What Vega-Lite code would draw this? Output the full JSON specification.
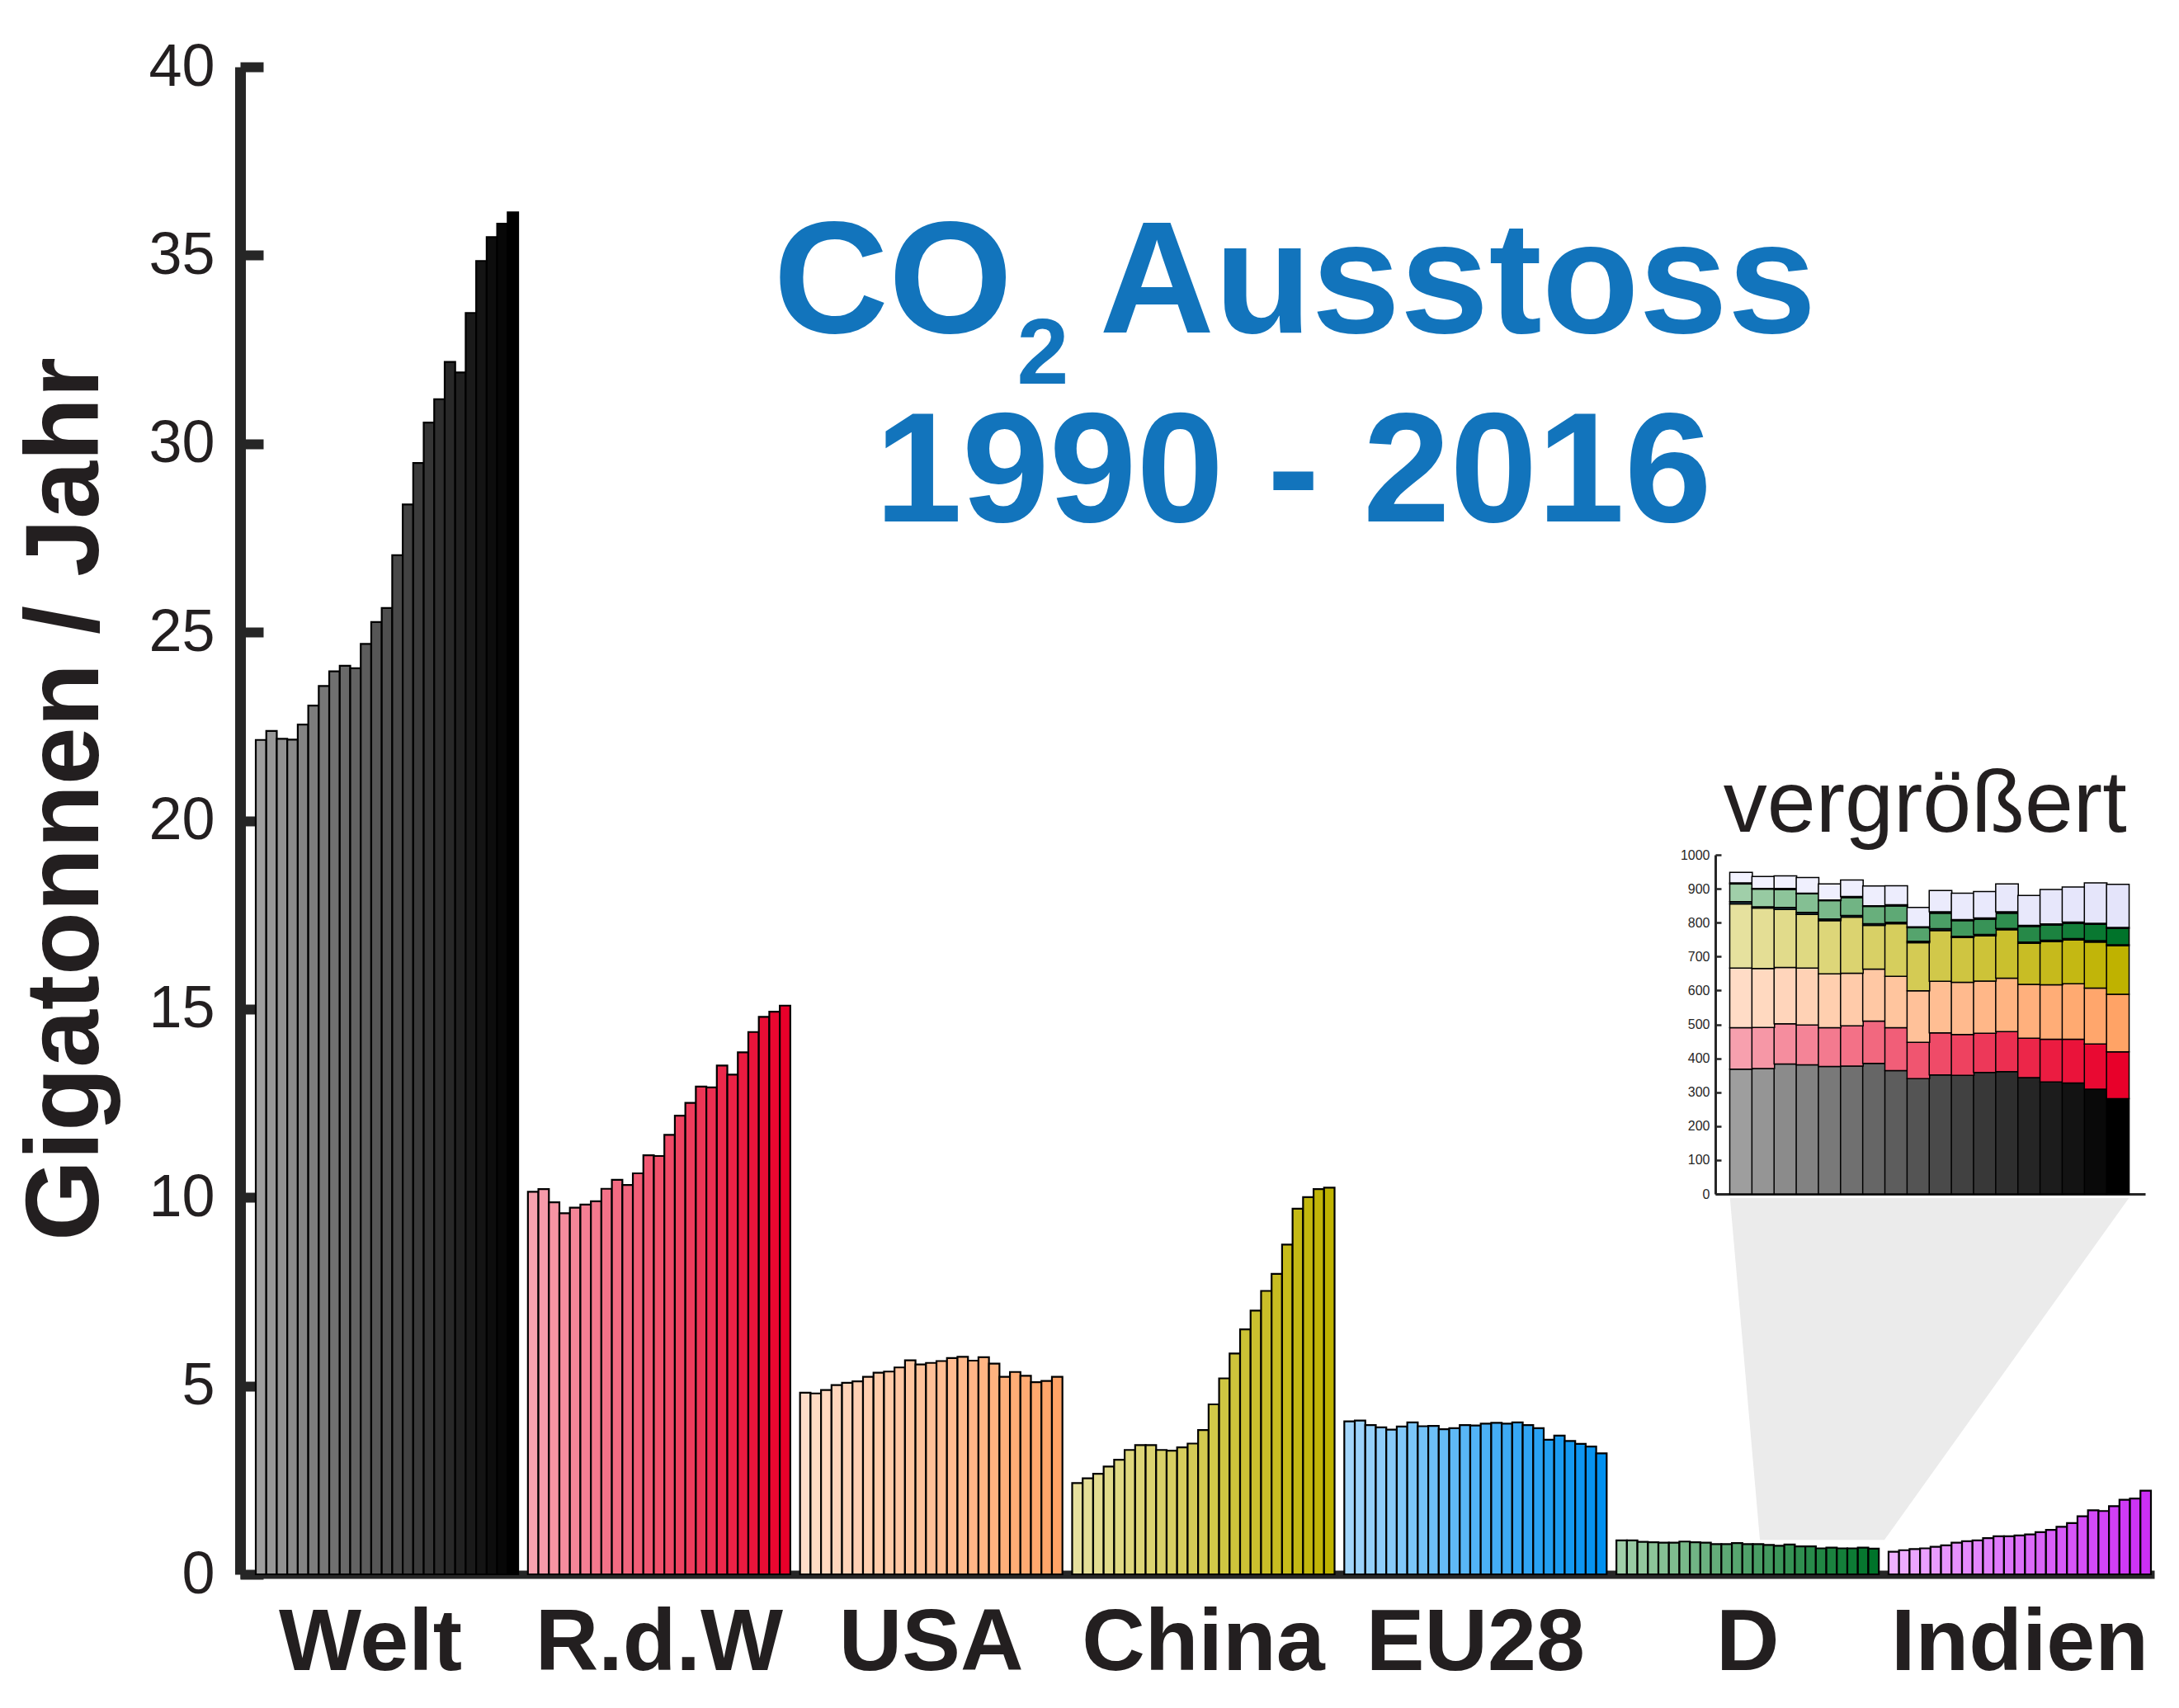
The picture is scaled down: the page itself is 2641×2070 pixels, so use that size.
{
"$schema": "https://vega.github.io/schema/vega-lite/v6.json",
"width": 2320, "height": 1827,
"autosize": "none",
"padding": {"left": 291, "top": 81, "right": 30, "bottom": 162},
"background": "white",
"config": {"view": {"stroke": null}, "font": "Liberation Sans"},
"datasets": {
"main": [
{"Land":"Welt","Jahr":1990,"Gt":22.14},{"Land":"Welt","Jahr":1991,"Gt":22.38},{"Land":"Welt","Jahr":1992,"Gt":22.17},{"Land":"Welt","Jahr":1993,"Gt":22.15},{"Land":"Welt","Jahr":1994,"Gt":22.55},{"Land":"Welt","Jahr":1995,"Gt":23.05},{"Land":"Welt","Jahr":1996,"Gt":23.57},{"Land":"Welt","Jahr":1997,"Gt":23.96},{"Land":"Welt","Jahr":1998,"Gt":24.11},{"Land":"Welt","Jahr":1999,"Gt":24.04},{"Land":"Welt","Jahr":2000,"Gt":24.69},{"Land":"Welt","Jahr":2001,"Gt":25.27},{"Land":"Welt","Jahr":2002,"Gt":25.64},{"Land":"Welt","Jahr":2003,"Gt":27.04},{"Land":"Welt","Jahr":2004,"Gt":28.39},{"Land":"Welt","Jahr":2005,"Gt":29.49},{"Land":"Welt","Jahr":2006,"Gt":30.56},{"Land":"Welt","Jahr":2007,"Gt":31.18},{"Land":"Welt","Jahr":2008,"Gt":32.17},{"Land":"Welt","Jahr":2009,"Gt":31.89},{"Land":"Welt","Jahr":2010,"Gt":33.47},{"Land":"Welt","Jahr":2011,"Gt":34.85},{"Land":"Welt","Jahr":2012,"Gt":35.48},{"Land":"Welt","Jahr":2013,"Gt":35.84},{"Land":"Welt","Jahr":2014,"Gt":36.14},
{"Land":"R.d.W","Jahr":1990,"Gt":10.15},{"Land":"R.d.W","Jahr":1991,"Gt":10.22},{"Land":"R.d.W","Jahr":1992,"Gt":9.87},{"Land":"R.d.W","Jahr":1993,"Gt":9.58},{"Land":"R.d.W","Jahr":1994,"Gt":9.73},{"Land":"R.d.W","Jahr":1995,"Gt":9.81},{"Land":"R.d.W","Jahr":1996,"Gt":9.9},{"Land":"R.d.W","Jahr":1997,"Gt":10.23},{"Land":"R.d.W","Jahr":1998,"Gt":10.47},{"Land":"R.d.W","Jahr":1999,"Gt":10.33},{"Land":"R.d.W","Jahr":2000,"Gt":10.64},{"Land":"R.d.W","Jahr":2001,"Gt":11.12},{"Land":"R.d.W","Jahr":2002,"Gt":11.1},{"Land":"R.d.W","Jahr":2003,"Gt":11.66},{"Land":"R.d.W","Jahr":2004,"Gt":12.17},{"Land":"R.d.W","Jahr":2005,"Gt":12.51},{"Land":"R.d.W","Jahr":2006,"Gt":12.94},{"Land":"R.d.W","Jahr":2007,"Gt":12.92},{"Land":"R.d.W","Jahr":2008,"Gt":13.5},{"Land":"R.d.W","Jahr":2009,"Gt":13.26},{"Land":"R.d.W","Jahr":2010,"Gt":13.85},{"Land":"R.d.W","Jahr":2011,"Gt":14.39},{"Land":"R.d.W","Jahr":2012,"Gt":14.79},{"Land":"R.d.W","Jahr":2013,"Gt":14.93},{"Land":"R.d.W","Jahr":2014,"Gt":15.09},
{"Land":"USA","Jahr":1990,"Gt":4.82},{"Land":"USA","Jahr":1991,"Gt":4.8},{"Land":"USA","Jahr":1992,"Gt":4.89},{"Land":"USA","Jahr":1993,"Gt":5.02},{"Land":"USA","Jahr":1994,"Gt":5.08},{"Land":"USA","Jahr":1995,"Gt":5.12},{"Land":"USA","Jahr":1996,"Gt":5.24},{"Land":"USA","Jahr":1997,"Gt":5.35},{"Land":"USA","Jahr":1998,"Gt":5.38},{"Land":"USA","Jahr":1999,"Gt":5.49},{"Land":"USA","Jahr":2000,"Gt":5.68},{"Land":"USA","Jahr":2001,"Gt":5.57},{"Land":"USA","Jahr":2002,"Gt":5.61},{"Land":"USA","Jahr":2003,"Gt":5.66},{"Land":"USA","Jahr":2004,"Gt":5.74},{"Land":"USA","Jahr":2005,"Gt":5.77},{"Land":"USA","Jahr":2006,"Gt":5.67},{"Land":"USA","Jahr":2007,"Gt":5.76},{"Land":"USA","Jahr":2008,"Gt":5.59},{"Land":"USA","Jahr":2009,"Gt":5.24},{"Land":"USA","Jahr":2010,"Gt":5.37},{"Land":"USA","Jahr":2011,"Gt":5.27},{"Land":"USA","Jahr":2012,"Gt":5.1},{"Land":"USA","Jahr":2013,"Gt":5.13},{"Land":"USA","Jahr":2014,"Gt":5.24},
{"Land":"China","Jahr":1990,"Gt":2.42},{"Land":"China","Jahr":1991,"Gt":2.55},{"Land":"China","Jahr":1992,"Gt":2.67},{"Land":"China","Jahr":1993,"Gt":2.86},{"Land":"China","Jahr":1994,"Gt":3.04},{"Land":"China","Jahr":1995,"Gt":3.3},{"Land":"China","Jahr":1996,"Gt":3.43},{"Land":"China","Jahr":1997,"Gt":3.43},{"Land":"China","Jahr":1998,"Gt":3.3},{"Land":"China","Jahr":1999,"Gt":3.28},{"Land":"China","Jahr":2000,"Gt":3.37},{"Land":"China","Jahr":2001,"Gt":3.47},{"Land":"China","Jahr":2002,"Gt":3.83},{"Land":"China","Jahr":2003,"Gt":4.51},{"Land":"China","Jahr":2004,"Gt":5.2},{"Land":"China","Jahr":2005,"Gt":5.86},{"Land":"China","Jahr":2006,"Gt":6.5},{"Land":"China","Jahr":2007,"Gt":7.0},{"Land":"China","Jahr":2008,"Gt":7.52},{"Land":"China","Jahr":2009,"Gt":7.97},{"Land":"China","Jahr":2010,"Gt":8.75},{"Land":"China","Jahr":2011,"Gt":9.7},{"Land":"China","Jahr":2012,"Gt":10.01},{"Land":"China","Jahr":2013,"Gt":10.22},{"Land":"China","Jahr":2014,"Gt":10.26},
{"Land":"EU28","Jahr":1990,"Gt":4.06},{"Land":"EU28","Jahr":1991,"Gt":4.08},{"Land":"EU28","Jahr":1992,"Gt":3.96},{"Land":"EU28","Jahr":1993,"Gt":3.9},{"Land":"EU28","Jahr":1994,"Gt":3.84},{"Land":"EU28","Jahr":1995,"Gt":3.92},{"Land":"EU28","Jahr":1996,"Gt":4.03},{"Land":"EU28","Jahr":1997,"Gt":3.93},{"Land":"EU28","Jahr":1998,"Gt":3.94},{"Land":"EU28","Jahr":1999,"Gt":3.85},{"Land":"EU28","Jahr":2000,"Gt":3.88},{"Land":"EU28","Jahr":2001,"Gt":3.96},{"Land":"EU28","Jahr":2002,"Gt":3.95},{"Land":"EU28","Jahr":2003,"Gt":4.0},{"Land":"EU28","Jahr":2004,"Gt":4.02},{"Land":"EU28","Jahr":2005,"Gt":4.0},{"Land":"EU28","Jahr":2006,"Gt":4.03},{"Land":"EU28","Jahr":2007,"Gt":3.96},{"Land":"EU28","Jahr":2008,"Gt":3.88},{"Land":"EU28","Jahr":2009,"Gt":3.57},{"Land":"EU28","Jahr":2010,"Gt":3.68},{"Land":"EU28","Jahr":2011,"Gt":3.54},{"Land":"EU28","Jahr":2012,"Gt":3.46},{"Land":"EU28","Jahr":2013,"Gt":3.39},{"Land":"EU28","Jahr":2014,"Gt":3.21},
{"Land":"D","Jahr":1990,"Gt":0.9},{"Land":"D","Jahr":1991,"Gt":0.9},{"Land":"D","Jahr":1992,"Gt":0.86},{"Land":"D","Jahr":1993,"Gt":0.85},{"Land":"D","Jahr":1994,"Gt":0.84},{"Land":"D","Jahr":1995,"Gt":0.84},{"Land":"D","Jahr":1996,"Gt":0.87},{"Land":"D","Jahr":1997,"Gt":0.85},{"Land":"D","Jahr":1998,"Gt":0.84},{"Land":"D","Jahr":1999,"Gt":0.8},{"Land":"D","Jahr":2000,"Gt":0.8},{"Land":"D","Jahr":2001,"Gt":0.83},{"Land":"D","Jahr":2002,"Gt":0.8},{"Land":"D","Jahr":2003,"Gt":0.8},{"Land":"D","Jahr":2004,"Gt":0.78},{"Land":"D","Jahr":2005,"Gt":0.76},{"Land":"D","Jahr":2006,"Gt":0.79},{"Land":"D","Jahr":2007,"Gt":0.74},{"Land":"D","Jahr":2008,"Gt":0.74},{"Land":"D","Jahr":2009,"Gt":0.69},{"Land":"D","Jahr":2010,"Gt":0.71},{"Land":"D","Jahr":2011,"Gt":0.69},{"Land":"D","Jahr":2012,"Gt":0.69},{"Land":"D","Jahr":2013,"Gt":0.71},{"Land":"D","Jahr":2014,"Gt":0.68},
{"Land":"Indien","Jahr":1990,"Gt":0.6},{"Land":"Indien","Jahr":1991,"Gt":0.64},{"Land":"Indien","Jahr":1992,"Gt":0.67},{"Land":"Indien","Jahr":1993,"Gt":0.69},{"Land":"Indien","Jahr":1994,"Gt":0.73},{"Land":"Indien","Jahr":1995,"Gt":0.77},{"Land":"Indien","Jahr":1996,"Gt":0.84},{"Land":"Indien","Jahr":1997,"Gt":0.88},{"Land":"Indien","Jahr":1998,"Gt":0.9},{"Land":"Indien","Jahr":1999,"Gt":0.96},{"Land":"Indien","Jahr":2000,"Gt":1.01},{"Land":"Indien","Jahr":2001,"Gt":1.01},{"Land":"Indien","Jahr":2002,"Gt":1.03},{"Land":"Indien","Jahr":2003,"Gt":1.06},{"Land":"Indien","Jahr":2004,"Gt":1.12},{"Land":"Indien","Jahr":2005,"Gt":1.18},{"Land":"Indien","Jahr":2006,"Gt":1.26},{"Land":"Indien","Jahr":2007,"Gt":1.36},{"Land":"Indien","Jahr":2008,"Gt":1.54},{"Land":"Indien","Jahr":2009,"Gt":1.7},{"Land":"Indien","Jahr":2010,"Gt":1.68},{"Land":"Indien","Jahr":2011,"Gt":1.81},{"Land":"Indien","Jahr":2012,"Gt":1.98},{"Land":"Indien","Jahr":2013,"Gt":2.01},{"Land":"Indien","Jahr":2014,"Gt":2.22}
],
"lupe": [
{"Jahr":1997,"Teil":1,"Mt":368},{"Jahr":1997,"Teil":2,"Mt":122},{"Jahr":1997,"Teil":3,"Mt":176},{"Jahr":1997,"Teil":4,"Mt":189},{"Jahr":1997,"Teil":5,"Mt":7},{"Jahr":1997,"Teil":6,"Mt":52},{"Jahr":1997,"Teil":7,"Mt":3},{"Jahr":1997,"Teil":8,"Mt":31},
{"Jahr":1998,"Teil":1,"Mt":370},{"Jahr":1998,"Teil":2,"Mt":121},{"Jahr":1998,"Teil":3,"Mt":174},{"Jahr":1998,"Teil":4,"Mt":178},{"Jahr":1998,"Teil":5,"Mt":4},{"Jahr":1998,"Teil":6,"Mt":52},{"Jahr":1998,"Teil":7,"Mt":2},{"Jahr":1998,"Teil":8,"Mt":35},
{"Jahr":1999,"Teil":1,"Mt":383},{"Jahr":1999,"Teil":2,"Mt":119},{"Jahr":1999,"Teil":3,"Mt":166},{"Jahr":1999,"Teil":4,"Mt":171},{"Jahr":1999,"Teil":5,"Mt":6},{"Jahr":1999,"Teil":6,"Mt":53},{"Jahr":1999,"Teil":7,"Mt":3},{"Jahr":1999,"Teil":8,"Mt":37},
{"Jahr":2000,"Teil":1,"Mt":381},{"Jahr":2000,"Teil":2,"Mt":117},{"Jahr":2000,"Teil":3,"Mt":168},{"Jahr":2000,"Teil":4,"Mt":158},{"Jahr":2000,"Teil":5,"Mt":6},{"Jahr":2000,"Teil":6,"Mt":55},{"Jahr":2000,"Teil":7,"Mt":2},{"Jahr":2000,"Teil":8,"Mt":46},
{"Jahr":2001,"Teil":1,"Mt":376},{"Jahr":2001,"Teil":2,"Mt":114},{"Jahr":2001,"Teil":3,"Mt":159},{"Jahr":2001,"Teil":4,"Mt":157},{"Jahr":2001,"Teil":5,"Mt":5},{"Jahr":2001,"Teil":6,"Mt":54},{"Jahr":2001,"Teil":7,"Mt":2},{"Jahr":2001,"Teil":8,"Mt":47},
{"Jahr":2002,"Teil":1,"Mt":377},{"Jahr":2002,"Teil":2,"Mt":119},{"Jahr":2002,"Teil":3,"Mt":155},{"Jahr":2002,"Teil":4,"Mt":165},{"Jahr":2002,"Teil":5,"Mt":5},{"Jahr":2002,"Teil":6,"Mt":53},{"Jahr":2002,"Teil":7,"Mt":3},{"Jahr":2002,"Teil":8,"Mt":49},
{"Jahr":2003,"Teil":1,"Mt":385},{"Jahr":2003,"Teil":2,"Mt":125},{"Jahr":2003,"Teil":3,"Mt":153},{"Jahr":2003,"Teil":4,"Mt":129},{"Jahr":2003,"Teil":5,"Mt":5},{"Jahr":2003,"Teil":6,"Mt":51},{"Jahr":2003,"Teil":7,"Mt":2},{"Jahr":2003,"Teil":8,"Mt":58},
{"Jahr":2004,"Teil":1,"Mt":364},{"Jahr":2004,"Teil":2,"Mt":126},{"Jahr":2004,"Teil":3,"Mt":152},{"Jahr":2004,"Teil":4,"Mt":155},{"Jahr":2004,"Teil":5,"Mt":4},{"Jahr":2004,"Teil":6,"Mt":48},{"Jahr":2004,"Teil":7,"Mt":4},{"Jahr":2004,"Teil":8,"Mt":56},
{"Jahr":2005,"Teil":1,"Mt":340},{"Jahr":2005,"Teil":2,"Mt":107},{"Jahr":2005,"Teil":3,"Mt":152},{"Jahr":2005,"Teil":4,"Mt":142},{"Jahr":2005,"Teil":5,"Mt":4},{"Jahr":2005,"Teil":6,"Mt":40},{"Jahr":2005,"Teil":7,"Mt":3},{"Jahr":2005,"Teil":8,"Mt":57},
{"Jahr":2006,"Teil":1,"Mt":351},{"Jahr":2006,"Teil":2,"Mt":124},{"Jahr":2006,"Teil":3,"Mt":152},{"Jahr":2006,"Teil":4,"Mt":150},{"Jahr":2006,"Teil":5,"Mt":5},{"Jahr":2006,"Teil":6,"Mt":46},{"Jahr":2006,"Teil":7,"Mt":4},{"Jahr":2006,"Teil":8,"Mt":63},
{"Jahr":2007,"Teil":1,"Mt":350},{"Jahr":2007,"Teil":2,"Mt":120},{"Jahr":2007,"Teil":3,"Mt":154},{"Jahr":2007,"Teil":4,"Mt":132},{"Jahr":2007,"Teil":5,"Mt":4},{"Jahr":2007,"Teil":6,"Mt":46},{"Jahr":2007,"Teil":7,"Mt":3},{"Jahr":2007,"Teil":8,"Mt":78},
{"Jahr":2008,"Teil":1,"Mt":358},{"Jahr":2008,"Teil":2,"Mt":116},{"Jahr":2008,"Teil":3,"Mt":154},{"Jahr":2008,"Teil":4,"Mt":133},{"Jahr":2008,"Teil":5,"Mt":4},{"Jahr":2008,"Teil":6,"Mt":45},{"Jahr":2008,"Teil":7,"Mt":4},{"Jahr":2008,"Teil":8,"Mt":78},
{"Jahr":2009,"Teil":1,"Mt":361},{"Jahr":2009,"Teil":2,"Mt":118},{"Jahr":2009,"Teil":3,"Mt":157},{"Jahr":2009,"Teil":4,"Mt":143},{"Jahr":2009,"Teil":5,"Mt":4},{"Jahr":2009,"Teil":6,"Mt":45},{"Jahr":2009,"Teil":7,"Mt":4},{"Jahr":2009,"Teil":8,"Mt":82},
{"Jahr":2010,"Teil":1,"Mt":343},{"Jahr":2010,"Teil":2,"Mt":116},{"Jahr":2010,"Teil":3,"Mt":159},{"Jahr":2010,"Teil":4,"Mt":121},{"Jahr":2010,"Teil":5,"Mt":4},{"Jahr":2010,"Teil":6,"Mt":46},{"Jahr":2010,"Teil":7,"Mt":3},{"Jahr":2010,"Teil":8,"Mt":88},
{"Jahr":2011,"Teil":1,"Mt":330},{"Jahr":2011,"Teil":2,"Mt":126},{"Jahr":2011,"Teil":3,"Mt":161},{"Jahr":2011,"Teil":4,"Mt":127},{"Jahr":2011,"Teil":5,"Mt":4},{"Jahr":2011,"Teil":6,"Mt":45},{"Jahr":2011,"Teil":7,"Mt":3},{"Jahr":2011,"Teil":8,"Mt":102},
{"Jahr":2012,"Teil":1,"Mt":327},{"Jahr":2012,"Teil":2,"Mt":129},{"Jahr":2012,"Teil":3,"Mt":164},{"Jahr":2012,"Teil":4,"Mt":129},{"Jahr":2012,"Teil":5,"Mt":4},{"Jahr":2012,"Teil":6,"Mt":45},{"Jahr":2012,"Teil":7,"Mt":4},{"Jahr":2012,"Teil":8,"Mt":103},
{"Jahr":2013,"Teil":1,"Mt":309},{"Jahr":2013,"Teil":2,"Mt":133},{"Jahr":2013,"Teil":3,"Mt":165},{"Jahr":2013,"Teil":4,"Mt":136},{"Jahr":2013,"Teil":5,"Mt":4},{"Jahr":2013,"Teil":6,"Mt":48},{"Jahr":2013,"Teil":7,"Mt":3},{"Jahr":2013,"Teil":8,"Mt":119},
{"Jahr":2014,"Teil":1,"Mt":281},{"Jahr":2014,"Teil":2,"Mt":138},{"Jahr":2014,"Teil":3,"Mt":170},{"Jahr":2014,"Teil":4,"Mt":143},{"Jahr":2014,"Teil":5,"Mt":3},{"Jahr":2014,"Teil":6,"Mt":48},{"Jahr":2014,"Teil":7,"Mt":3},{"Jahr":2014,"Teil":8,"Mt":127}
]
},
"layer": [
{
"layer": [
{
"data": {"values": [{"Jahr": 1996.5, "Jahr2": 2014.5, "Mt": -12}, {"Jahr": 1997.85, "Jahr2": 2003.47, "Mt": -1020}]},
"mark": {"type": "area", "orient": "horizontal", "color": "#EBEBEB"},
"encoding": {
"y": {"field": "Mt", "type": "quantitative", "title": null, "scale": {"domain": [0, 1000], "range": [1366, 955], "nice": false, "zero": false},
"axis": {"orient": "left", "offset": -1788, "values": [0,100,200,300,400,500,600,700,800,900,1000], "format": "d", "grid": false, "domainColor": "#262626", "domainWidth": 3, "tickColor": "#262626", "tickWidth": 2.5, "tickSize": -7, "labelPadding": 14, "labelFontSize": 16, "labelFont": "Liberation Sans", "labelColor": "#262626", "title": null}},
"x": {"field": "Jahr", "type": "quantitative", "title": null, "scale": {"domain": [1996.025, 2015.048], "range": [1788, 2309], "nice": false, "zero": false},
"axis": {"orient": "bottom", "offset": -461, "labels": false, "ticks": false, "grid": false, "domainColor": "#262626", "domainWidth": 3, "title": null}},
"x2": {"field": "Jahr2"}
}
},
{
"data": {"name": "lupe"},
"transform": [{"stack": "Mt", "groupby": ["Jahr"], "sort": [{"field": "Teil", "order": "ascending"}], "as": ["u0", "u1"]}],
"encoding": {
"x": {"field": "Jahr", "type": "quantitative", "title": null, "scale": {"domain": [1996.025, 2015.048], "range": [1788, 2309], "nice": false, "zero": false}},
"y": {"field": "u1", "type": "quantitative", "title": null, "scale": {"domain": [0, 1000], "range": [1366, 955], "nice": false, "zero": false}},
"y2": {"field": "u0"}
},
"layer": [
{"transform": [{"filter": {"field": "Teil", "equal": 1}}], "mark": {"type": "bar", "width": 27.4, "stroke": "#000000", "strokeWidth": 1.5}, "encoding": {"color": {"field": "Jahr", "type": "quantitative", "legend": null, "scale": {"domain": [1997, 2014], "range": ["#9E9E9E", "#000000"], "interpolate": "rgb"}}}},
{"transform": [{"filter": {"field": "Teil", "equal": 2}}], "mark": {"type": "bar", "width": 27.4, "stroke": "#000000", "strokeWidth": 1.5}, "encoding": {"color": {"field": "Jahr", "type": "quantitative", "legend": null, "scale": {"domain": [1997, 2014], "range": ["#F7A0AE", "#E8002A"], "interpolate": "rgb"}}}},
{"transform": [{"filter": {"field": "Teil", "equal": 3}}], "mark": {"type": "bar", "width": 27.4, "stroke": "#000000", "strokeWidth": 1.5}, "encoding": {"color": {"field": "Jahr", "type": "quantitative", "legend": null, "scale": {"domain": [1997, 2014], "range": ["#FFDCC6", "#FFA366"], "interpolate": "rgb"}}}},
{"transform": [{"filter": {"field": "Teil", "equal": 4}}], "mark": {"type": "bar", "width": 27.4, "stroke": "#000000", "strokeWidth": 1.5}, "encoding": {"color": {"field": "Jahr", "type": "quantitative", "legend": null, "scale": {"domain": [1997, 2014], "range": ["#E6E19E", "#BFB200"], "interpolate": "rgb"}}}},
{"transform": [{"filter": {"field": "Teil", "equal": 5}}], "mark": {"type": "bar", "width": 27.4, "stroke": "#000000", "strokeWidth": 1.5}, "encoding": {"color": {"field": "Jahr", "type": "quantitative", "legend": null, "scale": {"domain": [1997, 2014], "range": ["#2A4A5A", "#0A2030"], "interpolate": "rgb"}}}},
{"transform": [{"filter": {"field": "Teil", "equal": 6}}], "mark": {"type": "bar", "width": 27.4, "stroke": "#000000", "strokeWidth": 1.5}, "encoding": {"color": {"field": "Jahr", "type": "quantitative", "legend": null, "scale": {"domain": [1997, 2014], "range": ["#A0CFA9", "#00732A"], "interpolate": "rgb"}}}},
{"transform": [{"filter": {"field": "Teil", "equal": 7}}], "mark": {"type": "bar", "width": 27.4, "stroke": "#000000", "strokeWidth": 1.5}, "encoding": {"color": {"field": "Jahr", "type": "quantitative", "legend": null, "scale": {"domain": [1997, 2014], "range": ["#404050", "#101018"], "interpolate": "rgb"}}}},
{"transform": [{"filter": {"field": "Teil", "equal": 8}}], "mark": {"type": "bar", "width": 27.4, "stroke": "#000000", "strokeWidth": 1.5}, "encoding": {"color": {"field": "Jahr", "type": "quantitative", "legend": null, "scale": {"domain": [1997, 2014], "range": ["#F3F3FF", "#E4E4FA"], "interpolate": "rgb"}}}}
],
"resolve": {"scale": {"color": "independent"}}
},
{
"data": {"values": [{"Jahr": 2005.3, "Mt": 1068}]},
"mark": {"type": "text", "text": "vergrößert", "font": "Liberation Sans", "fontSize": 106, "color": "#231F20", "align": "center", "baseline": "alphabetic"},
"encoding": {
"x": {"field": "Jahr", "type": "quantitative", "title": null, "scale": {"domain": [1996.025, 2015.048], "range": [1788, 2309], "nice": false, "zero": false}},
"y": {"field": "Mt", "type": "quantitative", "title": null, "scale": {"domain": [0, 1000], "range": [1366, 955], "nice": false, "zero": false}}
}
}
],
"resolve": {"scale": {"color": "independent"}}
},
{
"layer": [
{
"data": {"name": "main"},
"encoding": {
"x": {"field": "Land", "type": "nominal", "title": null, "scale": {"domain": ["Welt", "R.d.W", "USA", "China", "EU28", "D", "Indien"], "paddingInner": 0.0358, "paddingOuter": 0.0349, "align": 0.826},
"axis": {"orient": "bottom", "ticks": false, "grid": false, "domainColor": "#262626", "domainWidth": 10, "labelFontSize": 106, "labelFontWeight": "bold", "labelFont": "Liberation Sans", "labelColor": "#231F20", "labelBaseline": "alphabetic", "labelPadding": 115, "labelAngle": 0, "labelLimit": 2000, "labelOverlap": false, "labelOffset": {"condition": {"test": "datum.value == 'Welt'", "value": -20}, "value": 0}, "title": null}},
"xOffset": {"field": "Jahr", "type": "ordinal", "scale": {"paddingInner": 0, "paddingOuter": 0}},
"y": {"field": "Gt", "type": "quantitative", "title": "Gigatonnen / Jahr", "scale": {"domain": [0, 40], "nice": false, "zero": true},
"axis": {"orient": "left", "values": [0,5,10,15,20,25,30,35,40], "grid": false, "domainColor": "#262626", "domainWidth": 13, "tickColor": "#262626", "tickWidth": 12, "tickSize": -28, "labelPadding": 59, "labelFontSize": 72, "labelFont": "Liberation Sans", "labelColor": "#231F20", "title": "Gigatonnen / Jahr", "titleFont": "Liberation Sans", "titleFontSize": 126, "titleFontWeight": "bold", "titleColor": "#231F20", "titlePadding": 35, "titleY": 887}}
},
"layer": [
{"transform": [{"filter": {"field": "Land", "equal": "Welt"}}], "mark": {"type": "bar", "stroke": "#000000", "strokeWidth": 2.2}, "encoding": {"color": {"field": "Jahr", "type": "quantitative", "legend": null, "scale": {"domain": [1990, 2014], "range": ["#9E9E9E", "#000000"], "interpolate": "rgb"}}}},
{"transform": [{"filter": {"field": "Land", "equal": "R.d.W"}}], "mark": {"type": "bar", "stroke": "#000000", "strokeWidth": 2.2}, "encoding": {"color": {"field": "Jahr", "type": "quantitative", "legend": null, "scale": {"domain": [1990, 2014], "range": ["#F7A1AE", "#E8002A"], "interpolate": "rgb"}}}},
{"transform": [{"filter": {"field": "Land", "equal": "USA"}}], "mark": {"type": "bar", "stroke": "#000000", "strokeWidth": 2.2}, "encoding": {"color": {"field": "Jahr", "type": "quantitative", "legend": null, "scale": {"domain": [1990, 2014], "range": ["#FFDDC8", "#FFA366"], "interpolate": "rgb"}}}},
{"transform": [{"filter": {"field": "Land", "equal": "China"}}], "mark": {"type": "bar", "stroke": "#000000", "strokeWidth": 2.2}, "encoding": {"color": {"field": "Jahr", "type": "quantitative", "legend": null, "scale": {"domain": [1990, 2014], "range": ["#E6E09E", "#BFB300"], "interpolate": "rgb"}}}},
{"transform": [{"filter": {"field": "Land", "equal": "EU28"}}], "mark": {"type": "bar", "stroke": "#000000", "strokeWidth": 2.2}, "encoding": {"color": {"field": "Jahr", "type": "quantitative", "legend": null, "scale": {"domain": [1990, 2014], "range": ["#A3D6FB", "#0090F0"], "interpolate": "rgb"}}}},
{"transform": [{"filter": {"field": "Land", "equal": "D"}}], "mark": {"type": "bar", "stroke": "#000000", "strokeWidth": 2.2}, "encoding": {"color": {"field": "Jahr", "type": "quantitative", "legend": null, "scale": {"domain": [1990, 2014], "range": ["#A0CFA9", "#00732A"], "interpolate": "rgb"}}}},
{"transform": [{"filter": {"field": "Land", "equal": "Indien"}}], "mark": {"type": "bar", "stroke": "#000000", "strokeWidth": 2.2}, "encoding": {"color": {"field": "Jahr", "type": "quantitative", "legend": null, "scale": {"domain": [1990, 2014], "range": ["#EEB0FF", "#CC2FF5"], "interpolate": "rgb"}}}}
],
"resolve": {"scale": {"color": "independent"}}
},
{
"data": {"values": [{"Land": "China", "Gt": 32.95}]},
"mark": {"type": "text", "text": "CO", "font": "Liberation Sans", "fontWeight": "bold", "fontSize": 193, "color": "#1274BC", "align": "left", "baseline": "alphabetic", "dx": -521},
"encoding": {
"x": {"field": "Land", "type": "nominal", "title": null, "scale": {"domain": ["Welt", "R.d.W", "USA", "China", "EU28", "D", "Indien"], "paddingInner": 0.0358, "paddingOuter": 0.0349, "align": 0.826}},
"y": {"field": "Gt", "type": "quantitative", "title": "Gigatonnen / Jahr", "scale": {"domain": [0, 40], "nice": false, "zero": true}}
}
},
{
"data": {"values": [{"Land": "China", "Gt": 31.59}]},
"mark": {"type": "text", "text": "2", "font": "Liberation Sans", "fontWeight": "bold", "fontSize": 113, "color": "#1274BC", "align": "left", "baseline": "alphabetic", "dx": -226},
"encoding": {
"x": {"field": "Land", "type": "nominal", "title": null, "scale": {"domain": ["Welt", "R.d.W", "USA", "China", "EU28", "D", "Indien"], "paddingInner": 0.0358, "paddingOuter": 0.0349, "align": 0.826}},
"y": {"field": "Gt", "type": "quantitative", "title": "Gigatonnen / Jahr", "scale": {"domain": [0, 40], "nice": false, "zero": true}}
}
},
{
"data": {"values": [{"Land": "China", "Gt": 32.95}]},
"mark": {"type": "text", "text": "Ausstoss", "font": "Liberation Sans", "fontWeight": "bold", "fontSize": 193, "color": "#1274BC", "align": "left", "baseline": "alphabetic", "dx": -126},
"encoding": {
"x": {"field": "Land", "type": "nominal", "title": null, "scale": {"domain": ["Welt", "R.d.W", "USA", "China", "EU28", "D", "Indien"], "paddingInner": 0.0358, "paddingOuter": 0.0349, "align": 0.826}},
"y": {"field": "Gt", "type": "quantitative", "title": "Gigatonnen / Jahr", "scale": {"domain": [0, 40], "nice": false, "zero": true}}
}
},
{
"data": {"values": [{"Land": "China", "Gt": 27.94}]},
"mark": {"type": "text", "text": "1990 - 2016", "font": "Liberation Sans", "fontWeight": "bold", "fontSize": 190, "color": "#1274BC", "align": "center", "baseline": "alphabetic", "dx": 109},
"encoding": {
"x": {"field": "Land", "type": "nominal", "title": null, "scale": {"domain": ["Welt", "R.d.W", "USA", "China", "EU28", "D", "Indien"], "paddingInner": 0.0358, "paddingOuter": 0.0349, "align": 0.826}},
"y": {"field": "Gt", "type": "quantitative", "title": "Gigatonnen / Jahr", "scale": {"domain": [0, 40], "nice": false, "zero": true}}
}
}
],
"resolve": {"scale": {"color": "independent"}}
}
],
"resolve": {"scale": {"x": "independent", "y": "independent", "color": "independent"}}
}
